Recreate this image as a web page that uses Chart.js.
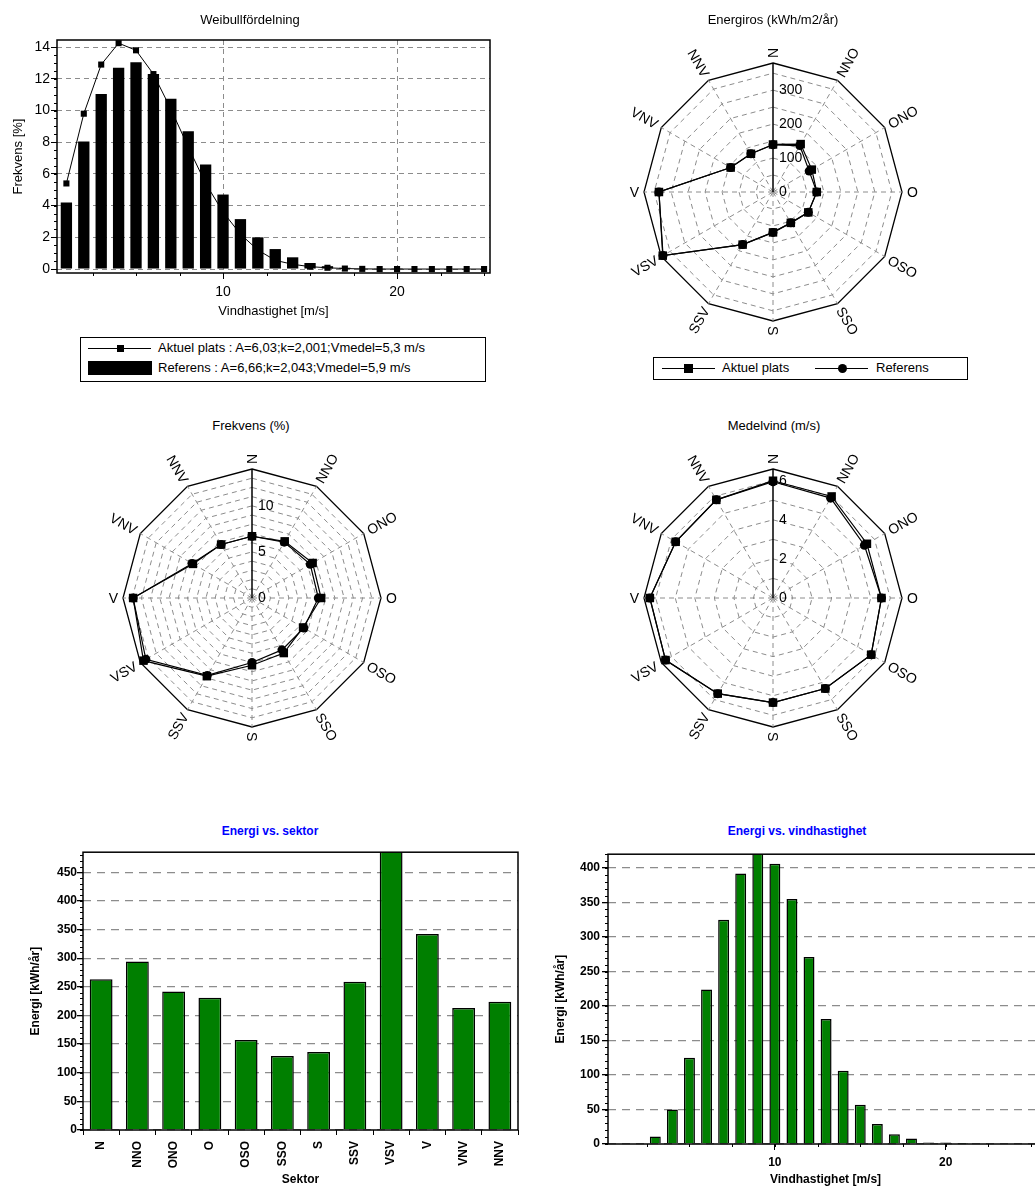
<!DOCTYPE html>
<html lang="sv">
<head>
<meta charset="utf-8">
<title>Vindanalys</title>
<script src="https://cdn.jsdelivr.net/npm/chart.js@4.4.1/dist/chart.umd.min.js"></script>
<style>
  html, body { margin: 0; padding: 0; background: #fff; overflow: hidden; }
  body { position: relative; width: 1035px; height: 1192px;
         font-family: "Liberation Sans", Arial, sans-serif; color: #000; }
  canvas { position: absolute; display: block; }
  .ttl { position: absolute; transform: translate(-50%, -50%); white-space: nowrap; font-size: 13px; }
  .ttl.blue { color: #0000ff; font-size: 12px; font-weight: bold; }
  .legend { position: absolute; border: 1px solid #000; background: #fff; font-size: 13px; }
  .legend span { position: absolute; display: block; }
  .lline { border-top: 1px solid #000; height: 0; }
  .lmark { background: #000; }
  .lmark.dot { border-radius: 50%; }
  .lbar { background: #000; }
  .ltxt { white-space: nowrap; line-height: 16px; }
</style>
</head>
<body>

<canvas id="weibull" width="500" height="330" style="left:0;top:0"></canvas>
<canvas id="roseEnergy" width="330" height="330" style="left:608px;top:27px"></canvas>
<canvas id="roseFreq" width="330" height="330" style="left:87px;top:433px"></canvas>
<canvas id="roseWind" width="330" height="330" style="left:608px;top:433px"></canvas>
<canvas id="sectorEnergy" width="530" height="347" style="left:0;top:845px"></canvas>
<canvas id="speedEnergy" width="510" height="347" style="left:545px;top:845px"></canvas>

<div class="ttl" style="left:250px;top:19px">Weibullfördelning</div>
<div class="ttl" style="left:773px;top:19px">Energiros (kWh/m2/år)</div>
<div class="ttl" style="left:251px;top:425px">Frekvens (%)</div>
<div class="ttl" style="left:774px;top:425px">Medelvind (m/s)</div>
<div class="ttl blue" style="left:270px;top:831px">Energi vs. sektor</div>
<div class="ttl blue" style="left:797px;top:831px">Energi vs. vindhastighet</div>

<div class="legend" style="left:80px;top:337px;width:404px;height:43px">
  <span class="lline" style="left:7px;top:10px;width:63px"></span>
  <span class="lmark" style="left:36px;top:7px;width:7px;height:7px"></span>
  <span class="ltxt" style="left:77px;top:2px">Aktuel plats : A=6,03;k=2,001;Vmedel=5,3 m/s</span>
  <span class="lbar" style="left:7px;top:23px;width:64px;height:14px"></span>
  <span class="ltxt" style="left:77px;top:22px">Referens : A=6,66;k=2,043;Vmedel=5,9 m/s</span>
</div>

<div class="legend" style="left:653px;top:357px;width:313px;height:21px">
  <span class="lline" style="left:8px;top:10px;width:53px"></span>
  <span class="lmark" style="left:30px;top:6px;width:9px;height:9px"></span>
  <span class="ltxt" style="left:68px;top:2px">Aktuel plats</span>
  <span class="lline" style="left:161px;top:10px;width:53px"></span>
  <span class="lmark dot" style="left:184px;top:6px;width:9px;height:9px"></span>
  <span class="ltxt" style="left:222px;top:2px">Referens</span>
</div>

<script>
// ── Data ────────────────────────────────────────────────────────────────────
const SECTORS = ['N', 'NNO', 'ONO', 'O', 'OSO', 'SSO', 'S', 'SSV', 'VSV', 'V', 'VNV', 'NNV'];
const SPEED_BINS = [1, 2, 3, 4, 5, 6, 7, 8, 9, 10, 11, 12, 13, 14, 15, 16, 17, 18, 19, 20, 21, 22, 23, 24, 25];

// Weibullfördelning, frekvens [%] per vindhastighet
const WEIBULL_AKTUEL   = [5.4, 9.8, 12.9, 14.25, 13.8, 12.3, 10.1, 7.7, 5.4, 3.6, 2.2, 1.2, 0.55, 0.3, 0.15, 0.08, 0.03, 0.01, 0, 0, 0, 0, 0, 0, 0];
const WEIBULL_REFERENS = [4.2, 8.05, 11.05, 12.7, 13.05, 12.3, 10.75, 8.7, 6.6, 4.7, 3.15, 2.0, 1.26, 0.74, 0.38, 0.18, 0.08, 0.04, 0.02, 0.01, 0, 0, 0, 0, 0];
const WEIBULL_Y_TICKS  = [0, 2, 4, 6, 8, 10, 12, 14];
const SPEED_X_TICKS    = [10, 20];

// Energiros (kWh/m2/år)
const ROSE_ENERGY_AKTUEL   = [140, 163, 132, 129, 120, 105, 119, 179, 375, 336, 144, 130];
const ROSE_ENERGY_REFERENS = [139, 158, 123, 129, 120, 105, 119, 179, 374, 336, 144, 130];
const ROSE_ENERGY_RINGS    = [0, 50, 100, 150, 200, 250, 300, 350, 380];
const ROSE_ENERGY_LABELS   = [0, 100, 200, 300];

// Frekvens (%)
const ROSE_FREQ_AKTUEL   = [6.7, 7.1, 7.6, 7.5, 6.4, 6.9, 7.3, 9.8, 13.6, 12.9, 7.4, 6.7];
const ROSE_FREQ_REFERENS = [6.7, 7.0, 7.3, 7.2, 6.5, 6.5, 7.0, 9.7, 13.3, 12.9, 7.5, 6.7];
const ROSE_FREQ_RINGS    = [0, 1, 2, 3, 4, 5, 6, 7, 8, 9, 10, 11, 12, 13, 14];
const ROSE_FREQ_LABELS   = [0, 5, 10];

// Medelvind (m/s)
const ROSE_WIND_AKTUEL   = [6.0, 6.0, 5.55, 5.55, 5.8, 5.35, 5.35, 5.65, 6.35, 6.3, 5.75, 5.8];
const ROSE_WIND_REFERENS = [5.95, 5.9, 5.4, 5.55, 5.8, 5.35, 5.35, 5.65, 6.35, 6.3, 5.75, 5.8];
const ROSE_WIND_RINGS    = [0, 1, 2, 3, 4, 5, 6, 6.6];
const ROSE_WIND_LABELS   = [0, 2, 4, 6];

// Energi vs. sektor [kWh/år]
const SECTOR_ENERGY  = [263, 294, 242, 231, 157, 129, 136, 259, 490, 342, 213, 224];
const SECTOR_Y_TICKS = [0, 50, 100, 150, 200, 250, 300, 350, 400, 450];

// Energi vs. vindhastighet [kWh/år]
const SPEED_ENERGY  = [0, 0, 11, 50, 125, 224, 325, 392, 425, 406, 355, 271, 181, 106, 57, 29, 14, 8, 2, 2, 0.5, 0, 0, 0, 0];
const SPEED_Y_TICKS = [0, 50, 100, 150, 200, 250, 300, 350, 400];

// ── Defaults ───────────────────────────────────────────────────────────────
const FONT = '"Liberation Sans", Arial, sans-serif';
Chart.defaults.font.family = FONT;
Chart.defaults.font.size   = 13;
Chart.defaults.color       = '#000';
Chart.defaults.animation   = false;
Chart.defaults.plugins.legend.display  = false;
Chart.defaults.plugins.tooltip.enabled = false;

const GRID_GREY = '#8c8c8c';

// ── Helpers ────────────────────────────────────────────────────────────────
const pts        = (xs, ys) => xs.map((x, i) => ({ x, y: ys[i] }));
const fixTicks   = list => scale => { scale.ticks = list.map(v => ({ value: v })); };
const fixWidth   = w => scale => { scale.width = w; };
const fixHeight  = h => scale => { scale.height = h; };

// black frame round the plot area
const framePlugin = {
  id: 'frame',
  afterDatasetsDraw(chart) {
    const a = chart.chartArea, ctx = chart.ctx;
    ctx.save();
    ctx.strokeStyle = '#000';
    ctx.lineWidth = 1.5;
    ctx.strokeRect(a.left, a.top, a.right - a.left, a.bottom - a.top);
    ctx.restore();
  }
};

// small ruler ticks outside the axes
const minorTicksPlugin = {
  id: 'minorTicks',
  afterDraw(chart, args, opts) {
    if (!opts.list) return;
    const ctx = chart.ctx;
    ctx.save();
    ctx.strokeStyle = '#000';
    ctx.lineWidth = 1;
    opts.list.forEach(m => {
      const s = chart.scales[m.axis];
      for (let v = m.from; v <= m.to + 1e-9; v += m.step) {
        const p = Math.round(s.getPixelForValue(v)) + 0.5;
        ctx.beginPath();
        if (s.isHorizontal()) { ctx.moveTo(p, s.top); ctx.lineTo(p, s.top + m.len); }
        else { ctx.moveTo(s.right, p); ctx.lineTo(s.right - m.len, p); }
        ctx.stroke();
      }
    });
    ctx.restore();
  }
};

// rose: value labels along N axis + direction labels rotated along the radius
const roseTextPlugin = {
  id: 'roseText',
  afterDraw(chart, args, opts) {
    const r = chart.scales.r, ctx = chart.ctx;
    ctx.save();
    ctx.fillStyle = '#000';
    ctx.font = '14px ' + FONT;
    ctx.textAlign = 'left';
    ctx.textBaseline = 'middle';
    opts.values.forEach(v => {
      ctx.fillText(String(v), r.xCenter + 6, r.yCenter - r.getDistanceFromCenterForValue(v));
    });
    const outer = r.getDistanceFromCenterForValue(r.max);
    ctx.textAlign = 'center';
    r.getLabels().forEach((lab, i) => {
      const w = ctx.measureText(lab).width;
      const p = r.getPointPosition(i, outer + 5 + w / 2);
      let rot = r.getIndexAngle(i) - Math.PI / 2;
      if (rot > Math.PI / 2 + 1e-6) rot -= Math.PI;
      ctx.save();
      ctx.translate(p.x, p.y);
      ctx.rotate(rot);
      ctx.fillText(lab, 0, 1);
      ctx.restore();
    });
    ctx.restore();
  }
};

// ── Weibullfördelning ──────────────────────────────────────────────────────
new Chart(document.getElementById('weibull'), {
  type: 'bar',
  data: {
    datasets: [
      {
        type: 'line', label: 'Aktuel plats', order: 0,
        data: pts(SPEED_BINS, WEIBULL_AKTUEL),
        borderColor: '#000', borderWidth: 1, tension: 0,
        pointStyle: 'rect', pointRadius: 4.3, pointBackgroundColor: '#000', pointBorderWidth: 0
      },
      {
        type: 'bar', label: 'Referens', order: 1,
        data: pts(SPEED_BINS, WEIBULL_REFERENS),
        backgroundColor: '#000', borderWidth: 0,
        barPercentage: 0.65, categoryPercentage: 1
      }
    ]
  },
  options: {
    responsive: false,
    layout: { padding: { left: 7, top: 40, right: 10, bottom: 7 } },
    scales: {
      x: {
        type: 'linear', min: 0.46, max: 25.34, offset: false,
        afterBuildTicks: fixTicks(SPEED_X_TICKS), afterFit: fixHeight(50),
        grid: { offset: false, color: GRID_GREY, tickColor: '#000', tickLength: 6 },
        border: { display: false, dash: [5, 4] },
        ticks: { padding: 5, autoSkip: false, maxRotation: 0, font: { size: 14 } },
        title: { display: true, text: 'Vindhastighet [m/s]', font: { size: 13 } }
      },
      y: {
        min: -0.25, max: 14.45,
        afterBuildTicks: fixTicks(WEIBULL_Y_TICKS), afterFit: fixWidth(50),
        grid: { color: GRID_GREY, tickColor: '#000', tickLength: 6 },
        border: { display: false, dash: [5, 4] },
        ticks: { padding: 1, autoSkip: false, font: { size: 14 } },
        title: { display: true, text: 'Frekvens [%]', font: { size: 13 } }
      }
    },
    plugins: {
      minorTicks: { list: [
        { axis: 'y', from: 0, to: 14, step: 0.5, len: 3 },
        { axis: 'x', from: 2.5, to: 25, step: 2.5, len: 3 }
      ] }
    }
  },
  plugins: [framePlugin, minorTicksPlugin]
});

// ── Roses ──────────────────────────────────────────────────────────────────
function rose(id, aktuel, referens, rings, values) {
  const max = rings[rings.length - 1];
  const isOuter = c => c.tick && c.tick.value >= max - 1e-9;
  return new Chart(document.getElementById(id), {
    type: 'radar',
    data: {
      labels: SECTORS,
      datasets: [
        {
          label: 'Aktuel plats', data: aktuel, fill: false,
          borderColor: '#000', borderWidth: 1.2, backgroundColor: '#000',
          pointStyle: 'rect', pointRadius: 6, pointBackgroundColor: '#000', pointBorderWidth: 0
        },
        {
          label: 'Referens', data: referens, fill: false,
          borderColor: '#000', borderWidth: 1.2, backgroundColor: '#000',
          pointStyle: 'circle', pointRadius: 4.5, pointBackgroundColor: '#000', pointBorderWidth: 0
        }
      ]
    },
    options: {
      responsive: false,
      layout: { padding: 36 },
      elements: { line: { tension: 0 } },
      scales: {
        r: {
          min: 0, max, startAngle: 0,
          afterBuildTicks: fixTicks(rings),
          ticks: { display: false },
          pointLabels: { display: false },
          grid: { color: c => isOuter(c) ? '#000' : GRID_GREY, lineWidth: c => isOuter(c) ? 1.3 : 1 },
          border: { dash: c => isOuter(c) ? [] : [5, 4] },
          angleLines: {
            color: c => c.index === 0 ? '#000' : GRID_GREY,
            lineWidth: c => c.index === 0 ? 1.5 : 1,
            borderDash: c => c.index === 0 ? [] : [5, 4]
          }
        }
      },
      plugins: { roseText: { values } }
    },
    plugins: [roseTextPlugin]
  });
}

rose('roseEnergy', ROSE_ENERGY_AKTUEL, ROSE_ENERGY_REFERENS, ROSE_ENERGY_RINGS, ROSE_ENERGY_LABELS);
rose('roseFreq',   ROSE_FREQ_AKTUEL,   ROSE_FREQ_REFERENS,   ROSE_FREQ_RINGS,   ROSE_FREQ_LABELS);
rose('roseWind',   ROSE_WIND_AKTUEL,   ROSE_WIND_REFERENS,   ROSE_WIND_RINGS,   ROSE_WIND_LABELS);

// ── Energi bar charts ──────────────────────────────────────────────────────
const BOLD12 = { size: 12, weight: 'bold' };
const GREEN  = '#007f00';

new Chart(document.getElementById('sectorEnergy'), {
  type: 'bar',
  data: {
    labels: SECTORS,
    datasets: [{
      label: 'Energi', data: SECTOR_ENERGY,
      backgroundColor: GREEN, borderColor: '#000', borderWidth: 1.5,
      barPercentage: 0.63, categoryPercentage: 1
    }]
  },
  options: {
    responsive: false,
    layout: { padding: { left: 24, top: 7, right: 12, bottom: 1 } },
    scales: {
      x: {
        afterFit: fixHeight(61),
        grid: { drawOnChartArea: false, tickColor: '#000', tickLength: 5 },
        border: { display: false },
        ticks: { padding: 6, minRotation: 90, maxRotation: 90, autoSkip: false, font: BOLD12 },
        title: { display: true, text: 'Sektor', font: BOLD12 }
      },
      y: {
        min: 0, max: 485,
        afterBuildTicks: fixTicks(SECTOR_Y_TICKS), afterFit: fixWidth(59),
        grid: { color: GRID_GREY, lineWidth: 1.3, tickColor: '#000', tickLength: 6 },
        border: { display: false, dash: [8, 6] },
        ticks: { padding: 0, autoSkip: false, font: BOLD12 },
        title: { display: true, text: 'Energi [kWh/år]', font: BOLD12 }
      }
    },
    plugins: {
      minorTicks: { list: [{ axis: 'y', from: 0, to: 480, step: 10, len: 3 }] }
    }
  },
  plugins: [framePlugin, minorTicksPlugin]
});

new Chart(document.getElementById('speedEnergy'), {
  type: 'bar',
  data: {
    datasets: [{
      label: 'Energi', data: pts(SPEED_BINS, SPEED_ENERGY),
      backgroundColor: GREEN, borderColor: '#000', borderWidth: 1.5,
      barPercentage: 0.64, categoryPercentage: 1
    }]
  },
  options: {
    responsive: false,
    layout: { padding: { left: 4, top: 7, right: 12, bottom: 1 } },
    scales: {
      x: {
        type: 'linear', min: 0.23, max: 25.7, offset: false,
        afterBuildTicks: fixTicks(SPEED_X_TICKS), afterFit: fixHeight(47),
        grid: { offset: false, drawOnChartArea: false, tickColor: '#000', tickLength: 6 },
        border: { display: false },
        ticks: { padding: 5, autoSkip: false, maxRotation: 0, font: BOLD12 },
        title: { display: true, text: 'Vindhastighet [m/s]', font: BOLD12 }
      },
      y: {
        min: 0, max: 420,
        afterBuildTicks: fixTicks(SPEED_Y_TICKS), afterFit: fixWidth(59),
        grid: { color: GRID_GREY, lineWidth: 1.3, tickColor: '#000', tickLength: 6 },
        border: { display: false, dash: [8, 6] },
        ticks: { padding: 2, autoSkip: false, font: BOLD12 },
        title: { display: true, text: 'Energi [kWh/år]', font: BOLD12 }
      }
    },
    plugins: {
      minorTicks: { list: [
        { axis: 'y', from: 0, to: 420, step: 10, len: 3 },
        { axis: 'x', from: 2.5, to: 25, step: 2.5, len: 3 }
      ] }
    }
  },
  plugins: [framePlugin, minorTicksPlugin]
});
</script>
</body>
</html>
